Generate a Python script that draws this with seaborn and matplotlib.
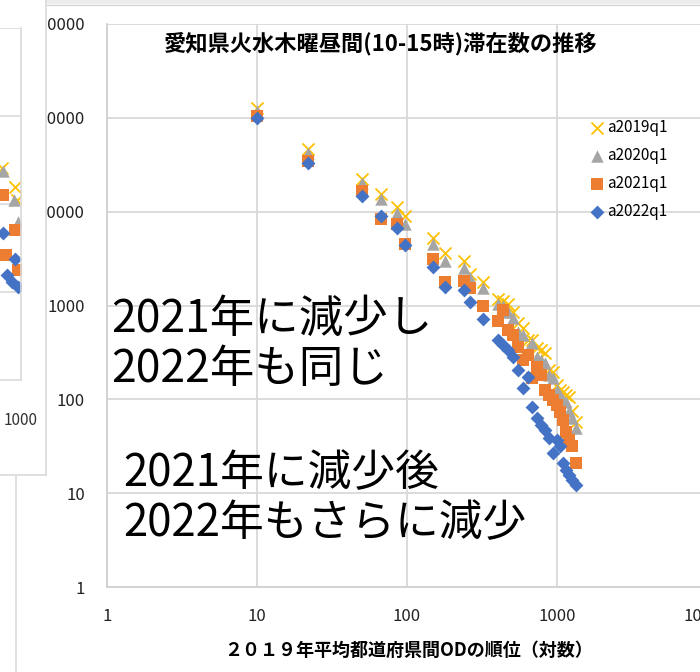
import numpy as np
import pandas as pd
import seaborn as sns
import matplotlib.pyplot as plt
from matplotlib.ticker import FixedLocator, FixedFormatter, NullLocator
from matplotlib.lines import Line2D
from matplotlib.patches import Rectangle

# ranks of the 2019 inter-prefecture OD (x) and stay counts per quarter (y)
rank = [10, 22, 50, 67, 86, 97, 149, 179, 240, 263, 321, 404, 437, 471, 509, 550,
        593, 641, 681, 736, 782, 832, 885, 940, 1000, 1047, 1096, 1148, 1202, 1259, 1340]
a2019q1 = [128000, 46800, 22400, 15500, 11300, 9060, 5290, 3660, 3010, 2190, 1760, 1187,
           1130, 1050, 843, 644, 569, 424, 424, 349, 332, 308, 204, 194, 141, 125, 119,
           110, 105, 76, 57]
a2020q1 = [119000, 42400, 20400, 13700, 9750, 7450, 4570, 3010, 2480, 1985, 1555, 1050,
           1000, 843, 727, 516, 480, 332, 394, 280, 260, 242, 180, 167, 125, 110, 98,
           93, 76, 63, 50]
a2021q1 = [105000, 34900, 16700, 8430, 7450, 4570, 3160, 1760, 1845, 1555, 1000, 692,
           885, 542, 480, 357, 260, 294, 167, 219, 180, 125, 110, 98, 86, 73, 60, 45,
           37, 32, 21]
a2022q1 = [100000, 33200, 14800, 9060, 6760, 4460, 2600, 1590, 1445, 1077, 710, 424,
           375, 332, 280, 204, 131, 171, 82, 64, 53, 47, 39, 27, 37, 32, 21, 17.6,
           15.5, 13.7, 12.2]

# the partly hidden chart on the left
left_rank = [646, 661, 871, 912, 851, 933, 661, 871, 708, 933, 661, 871, 724, 813, 933]
left_vals = [256, 237, 156, 111, 111, 62, 127, 51, 26, 17.8, 47, 24, 15.6, 13, 11.4]
left_series = ['a2019q1', 'a2020q1', 'a2019q1', 'a2019q1', 'a2020q1', 'a2020q1',
               'a2021q1', 'a2021q1', 'a2021q1', 'a2021q1',
               'a2022q1', 'a2022q1', 'a2022q1', 'a2022q1', 'a2022q1']

series_names = ['a2019q1', 'a2020q1', 'a2021q1', 'a2022q1']
markers = ['x', '^', 's', 'D']
colors = ['#FFC000', '#A5A5A5', '#ED7D31', '#4472C4']
sizes = [75, 80, 70, 50]

xticks = [1, 10, 100, 1000, 10000]
xtick_labels = ['1', '10', '100', '1000', '10000']
yticks = [1, 10, 100, 1000, 10000, 100000, 1000000]
ytick_labels = ['1', '10', '100', '1000', '10000', '100000', '1000000']

title = '愛知県火水木曜昼間(10-15時)滞在数の推移'
xlabel = '２０１９年平均都道府県間ODの順位（対数）'
note1 = '2021年に減少し\n2022年も同じ'
note2 = '2021年に減少後\n2022年もさらに減少'

sns.set_theme(style='white')
plt.rcParams['font.family'] = ['Noto Sans CJK JP', 'DejaVu Sans']
plt.rcParams['text.color'] = 'black'

W, H = 700, 672
fig = plt.figure(figsize=(W / 100, H / 100), dpi=100)


def box(x, y, w, h):
    return [x / W, 1 - (y + h) / H, w / W, h / H]


def draw(ax, xs, series):
    for name, vals, mk, col, s in zip(series_names, series, markers, colors, sizes):
        sns.scatterplot(x=xs, y=vals, ax=ax, marker=mk, color=col, s=s,
                        linewidth=1.3 if mk == 'x' else 0, label=name)


ax = fig.add_axes(box(107, 24, 600, 563))
draw(ax, rank, [a2019q1, a2020q1, a2021q1, a2022q1])
ax.set_xscale('log')
ax.set_yscale('log')
ax.set_xlim(1, 10000)
ax.set_ylim(1, 1000000)
ax.xaxis.set_major_locator(FixedLocator(xticks))
ax.xaxis.set_major_formatter(FixedFormatter(xtick_labels))
ax.yaxis.set_major_locator(FixedLocator(yticks))
ax.yaxis.set_major_formatter(FixedFormatter(ytick_labels))
ax.xaxis.set_minor_locator(NullLocator())
ax.yaxis.set_minor_locator(NullLocator())
ax.grid(True, color='#D9D9D9', lw=1.3)
ax.set_axisbelow(True)
for sp in ['top', 'right']:
    ax.spines[sp].set_visible(False)
for sp in ['left', 'bottom']:
    ax.spines[sp].set_color('#D0D0D0')
    ax.spines[sp].set_linewidth(1.3)
ax.tick_params(axis='both', length=0, labelsize=12, colors='#222222')
ax.tick_params(axis='y', pad=16)
ax.tick_params(axis='x', pad=15)
ax.set_xlabel('')
ax.set_ylabel('')
leg = ax.legend(loc='upper left', bbox_to_anchor=(582 / W, 1 - 111 / H),
                bbox_transform=fig.transFigure, frameon=False, fontsize=11,
                handletextpad=0.15, handlelength=1.0, labelspacing=0.72, borderpad=0)
for t in leg.get_texts():
    t.set_color('black')

fig.text(381 / W, 1 - 44 / H, title, ha='center', va='center',
         fontsize=16, fontweight='bold', color='black')
fig.text(409 / W, 1 - 650 / H, xlabel, ha='center', va='center',
         fontsize=13, fontweight='bold', color='black')
fig.text(111 / W, 1 - 344 / H, note1, ha='left', va='center', fontsize=32,
         linespacing=1.1, color='black')
fig.text(123 / W, 1 - 498 / H, note2, ha='left', va='center', fontsize=31.5,
         linespacing=1.12, color='black')

# overlapping window of another chart on the left
lp = fig.add_axes(box(0, 0, 46, 475))
lp.set_zorder(5)
lp.set_facecolor('white')
lp.set_xticks([])
lp.set_yticks([])
for sp in ['top', 'left']:
    lp.spines[sp].set_visible(False)
for sp in ['right', 'bottom']:
    lp.spines[sp].set_color('#D9D9D9')
    lp.spines[sp].set_linewidth(1.2)

mini = fig.add_axes(box(-279, 28, 300, 352))
mini.set_zorder(6)
mini.patch.set_alpha(0)
left_df = pd.DataFrame({'rank': left_rank, 'val': left_vals, 'series': left_series})
for name, mk, col, s in zip(series_names, markers, colors, sizes):
    sub = left_df[left_df['series'] == name]
    sns.scatterplot(data=sub, x='rank', y='val', ax=mini, marker=mk, color=col, s=s,
                    linewidth=1.3 if mk == 'x' else 0)
mini.set_xscale('log')
mini.set_yscale('log')
mini.set_xlim(1, 1000)
mini.set_ylim(1, 10000)
mini.xaxis.set_major_locator(FixedLocator([1000]))
mini.xaxis.set_major_formatter(FixedFormatter(['1000']))
mini.yaxis.set_major_locator(FixedLocator([10, 100, 1000, 10000]))
mini.yaxis.set_major_formatter(FixedFormatter(['', '', '', '']))
mini.xaxis.set_minor_locator(NullLocator())
mini.yaxis.set_minor_locator(NullLocator())
mini.grid(True, axis='y', color='#D9D9D9', lw=1.2)
for sp in ['top', 'left']:
    mini.spines[sp].set_visible(False)
for sp in ['right', 'bottom']:
    mini.spines[sp].set_color('#D9D9D9')
    mini.spines[sp].set_linewidth(1.2)
mini.tick_params(length=0, labelsize=11, colors='#333333')
mini.tick_params(axis='x', pad=23)
mini.set_xlabel('')
mini.set_ylabel('')

# window edges
fig.add_artist(Rectangle((47 / W, 1 - 4 / H), 653 / W, 4 / H, color='#ECECEC', lw=0))
fig.add_artist(Line2D([47 / W, 1], [1 - 4.5 / H, 1 - 4.5 / H], color='#D4D4D4', lw=1))
fig.add_artist(Line2D([16 / W, 16 / W], [0, 1 - 476 / H], color='#D9D9D9', lw=1.2))

fig.savefig('out.png', dpi=100)
